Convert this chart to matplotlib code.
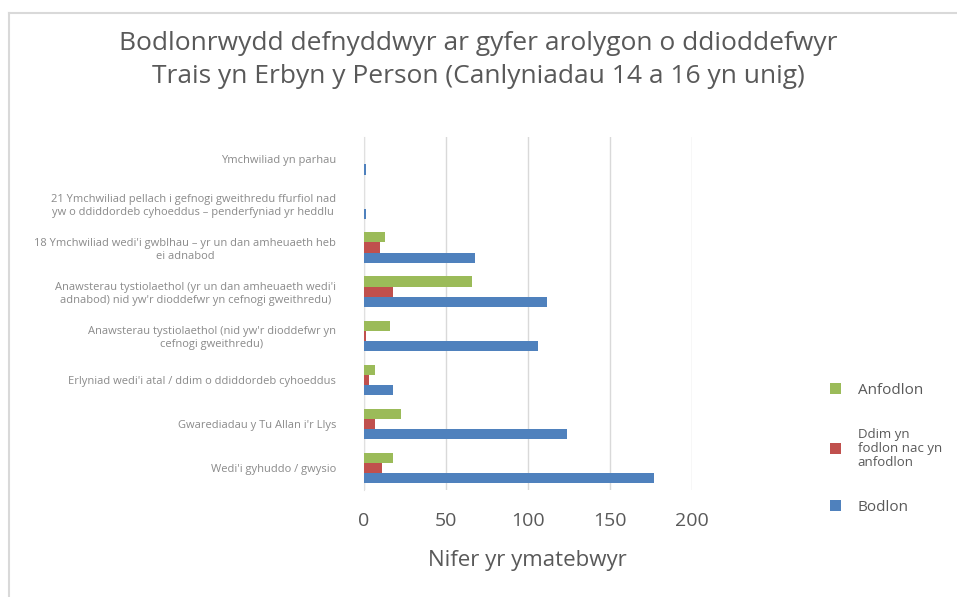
import matplotlib
matplotlib.use("Agg")
import matplotlib.pyplot as plt
import numpy as np
from matplotlib.lines import Line2D

plt.rcParams['font.family'] = ['Open Sans', 'DejaVu Sans']

categories = [
    "Ymchwiliad yn parhau",
    "21 Ymchwiliad pellach i gefnogi gweithredu ffurfiol nad\nyw o ddiddordeb cyhoeddus – penderfyniad yr heddlu",
    "18 Ymchwiliad wedi'i gwblhau – yr un dan amheuaeth heb\nei adnabod",
    "Anawsterau tystiolaethol (yr un dan amheuaeth wedi'i\nadnabod) nid yw'r dioddefwr yn cefnogi gweithredu)",
    "Anawsterau tystiolaethol (nid yw'r dioddefwr yn\ncefnogi gweithredu)",
    "Erlyniad wedi'i atal / ddim o ddiddordeb cyhoeddus",
    "Gwarediadau y Tu Allan i'r Llys",
    "Wedi'i gyhuddo / gwysio",
]
anfodlon = [0, 0.3, 13, 66, 16, 7, 23, 18]
ddim = [0, 0, 10, 18, 1.5, 3, 7, 11]
bodlon = [1.5, 1.5, 68, 112, 106, 18, 124, 177]

series_labels = ["Anfodlon", "Ddim yn\nfodlon nac yn\nanfodlon", "Bodlon"]
colors = ["#9BBB59", "#C0504D", "#4F81BD"]
xticks = [0, 50, 100, 150, 200]

title = ("Bodlonrwydd defnyddwyr ar gyfer arolygon o ddioddefwyr\n"
         "Trais yn Erbyn y Person (Canlyniadau 14 a 16 yn unig)")
xlabel = "Nifer yr ymatebwyr"

fig = plt.figure(figsize=(9.57, 5.97), dpi=100)
ax = fig.add_axes([0.380, 0.179, 0.343, 0.591])

y = np.arange(len(categories))
h = 0.23
b1 = ax.barh(y - h, anfodlon, height=h, color=colors[0], label=series_labels[0], zorder=3)
b2 = ax.barh(y, ddim, height=h, color=colors[1], label=series_labels[1], zorder=3)
b3 = ax.barh(y + h, bodlon, height=h, color=colors[2], label=series_labels[2], zorder=3)

ax.set_ylim(len(categories) - 0.5, -0.5)
ax.set_xlim(0, 200)
ax.set_xticks(xticks)
ax.set_xticklabels([str(t) for t in xticks])
ax.set_yticks(y)
ax.set_yticklabels(categories, fontsize=8, color="#8a8a8a",
                   multialignment="center", linespacing=1.2)
ax.tick_params(axis='y', length=0, pad=20)
ax.tick_params(axis='x', length=0, pad=16, labelsize=14, labelcolor="#595959")
ax.xaxis.grid(True, color="#d9d9d9", linewidth=1, zorder=0)
ax.set_axisbelow(True)
for s in ["top", "right", "bottom"]:
    ax.spines[s].set_visible(False)
ax.spines["left"].set_color("#e0e0e0")
ax.spines["left"].set_zorder(1)

ax.set_xlabel(xlabel, fontsize=16, color="#595959", labelpad=14)

fig.text(0.5, 0.899, title, ha="center", va="center", fontsize=19,
         color="#595959", linespacing=1.4)

leg = ax.legend(handles=[b1, b2, b3], loc="center left",
                bbox_to_anchor=(0.853, 0.248), bbox_transform=fig.transFigure,
                frameon=False, handlelength=0.7, handleheight=0.7,
                handletextpad=1.1, labelspacing=2.0, fontsize=11,
                labelcolor="#595959")
leg.get_texts()[1].set_fontsize(9.5)
leg.get_texts()[1].set_linespacing(1.1)

# chart frame lines
fig.add_artist(Line2D([9/957, 9/957], [0, 1 - 13/597], color="#d9d9d9",
                      linewidth=1.5, transform=fig.transFigure))
fig.add_artist(Line2D([9/957, 1], [1 - 13/597, 1 - 13/597], color="#d9d9d9",
                      linewidth=1.5, transform=fig.transFigure))

fig.savefig("out.png", dpi=100)
